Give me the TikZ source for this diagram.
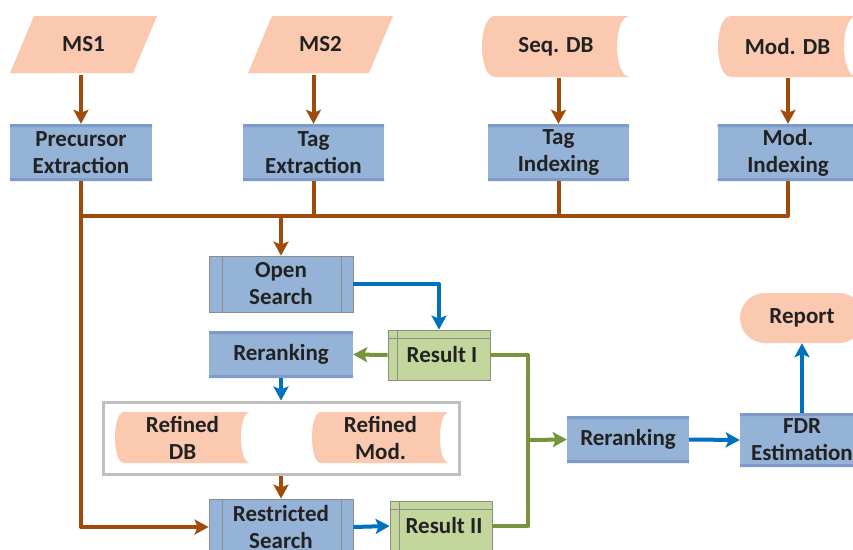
\documentclass[tikz,border=0pt]{standalone}
\usepackage{fontspec}
\setmainfont{Carlito}
\usetikzlibrary{arrows.meta,calc}

\definecolor{peach}{HTML}{FAC9AF}
\definecolor{bluefill}{HTML}{95B3D7}
\definecolor{bluedark}{HTML}{7D9BC9}
\definecolor{greenfill}{HTML}{C3D69B}
\definecolor{brownline}{HTML}{9E4B0C}
\definecolor{bluearrow}{HTML}{0070C0}
\definecolor{greenline}{HTML}{77933C}
\definecolor{boxgrey}{HTML}{BFBFBF}
\definecolor{edgegrey}{HTML}{8C8C8C}
\definecolor{txt}{HTML}{222222}

\tikzset{
  lbl/.style={inner sep=0pt, align=center, text=txt,
    font=\fontsize{23}{27}\selectfont\bfseries},
  % parallelogram (input data)
  inputbox/.style={lbl, path picture={
      \fill[peach] let \p1=(path picture bounding box.north west),
                       \p2=(path picture bounding box.south east) in
        (\x1+24pt,\y1) -- (\x2,\y1) -- (\x2-24pt,\y2) -- (\x1,\y2) -- cycle;}},
  % stored data: convex left side, concave right side
  storedbox/.style={lbl, path picture={
      \fill[peach] let \p1=(path picture bounding box.north west),
                       \p2=(path picture bounding box.south east) in
        (\x1+#1,\y1) -- (\x2,\y1)
        .. controls (\x2-4*#1/3,\y1) and (\x2-4*#1/3,\y2) .. (\x2,\y2)
        -- (\x1+#1,\y2)
        .. controls (\x1-#1/3,\y2) and (\x1-#1/3,\y1) .. (\x1+#1,\y1) -- cycle;}},
  storedbox/.default=12pt,
  % plain process box with darker top and bottom bands
  processbox/.style={lbl, fill=bluefill, path picture={
      \fill[bluedark] let \p1=(path picture bounding box.north west),
                          \p2=(path picture bounding box.south east) in
        (\x1,\y1) rectangle (\x2,\y1-3pt) (\x1,\y2) rectangle (\x2,\y2+3pt);}},
  % predefined process
  predefbox/.style={lbl, fill=bluefill, draw=edgegrey, line width=0.8pt,
    path picture={
      \draw[edgegrey, line width=0.8pt] let \p1=(path picture bounding box.north west),
                          \p2=(path picture bounding box.south east) in
        (\x1+13pt,\y1) -- (\x1+13pt,\y2) (\x2-12pt,\y1) -- (\x2-12pt,\y2);}},
  % internal storage
  storagebox/.style={lbl, fill=greenfill, draw=edgegrey, line width=0.8pt,
    path picture={
      \draw[edgegrey, line width=0.8pt] let \p1=(path picture bounding box.north west),
                          \p2=(path picture bounding box.south east) in
        (\x1+9pt,\y1) -- (\x1+9pt,\y2) (\x1,\y1-8pt) -- (\x2,\y1-8pt);}},
  terminalbox/.style={lbl, fill=peach, rounded corners=25pt},
  groupbox/.style={draw=boxgrey, line width=3pt, fill=white},
  tip/.style={-{Stealth[length=14pt,width=15pt,inset=3pt]}},
  brownflow/.style={draw=brownline, line width=4pt, line join=round},
  blueflow/.style={draw=bluearrow, line width=4pt, line join=round},
  greenflow/.style={draw=greenline, line width=4pt, line join=round},
}

\begin{document}
\begin{tikzpicture}[x=1pt, y=-1pt]
\clip (0,0) rectangle (853,549);
\fill[white] (0,0) rectangle (853,549);

% inputs
\node[inputbox, minimum width=147pt, minimum height=57pt] (ms1) at (83.5,44.5) {MS1};
\node[inputbox, minimum width=145pt, minimum height=57pt] (ms2) at (320.5,44.5) {MS2};
\node[storedbox=13pt, minimum width=148pt, minimum height=61pt] (seqdb) at (556,46.5) {Seq. DB};
\node[storedbox=13pt, minimum width=139pt, minimum height=61pt] (moddb) at (787.5,46.5) {Mod. DB};

% first processing row
\node[processbox, minimum width=142pt, minimum height=57pt] (prec) at (81,152.5) {Precursor\\Extraction};
\node[processbox, minimum width=141pt, minimum height=57pt] (tagex) at (313.5,152.5) {Tag\\Extraction};
\node[processbox, minimum width=141pt, minimum height=57pt] (tagidx) at (558.5,152.5) {Tag\\Indexing};
\node[processbox, minimum width=141pt, minimum height=57pt] (modidx) at (788,152.5) {Mod.\\Indexing};

\coordinate (bus) at (0,216);

% search stages
\node[predefbox, minimum width=144pt, minimum height=56pt] (open) at (281,284) {Open\\Search};
\node[storagebox, minimum width=102pt, minimum height=50pt] (res1) at (439,355) {\kern6pt\raisebox{-4pt}{Result I}};
\node[processbox, minimum width=144pt, minimum height=47pt] (rr1) at (281,354.5) {Reranking};

\node[groupbox, minimum width=356pt, minimum height=72pt] (refined) at (281,438) {};
\node[storedbox=9pt, minimum width=135pt, minimum height=51pt] (refdb) at (182.5,437.5) {Refined\\DB};
\node[storedbox=9pt, minimum width=137pt, minimum height=51pt] (refmod) at (380.5,437.5) {Refined\\Mod.};

\node[predefbox, minimum width=144pt, minimum height=56pt] (restr) at (281,527) {Restricted\\Search};
\node[storagebox, minimum width=102pt, minimum height=50pt] (res2) at (441,526) {\kern6pt\raisebox{-4pt}{Result II}};

% final stages
\node[processbox, minimum width=122pt, minimum height=47pt] (rr2) at (628,439.5) {Reranking};
\node[processbox, minimum width=124pt, minimum height=54pt] (fdr) at (802,440) {FDR\\Estimation};
\node[terminalbox, minimum width=124pt, minimum height=50pt] (report) at (802,318) {Report};

\coordinate (gj) at (528,440);

% brown flows
\draw[brownflow, tip] (prec.north |- ms1.south) ++(0,2) -- (prec.north);
\draw[brownflow, tip] (tagex.north |- ms2.south) ++(0,2) -- (tagex.north);
\draw[brownflow, tip] (tagidx.north |- seqdb.south) ++(0,1) -- (tagidx.north);
\draw[brownflow, tip] (modidx.north |- moddb.south) ++(0,1) -- (modidx.north);
\draw[brownflow] (prec.south |- bus) -- (modidx.south |- bus) -- (modidx.south);
\draw[brownflow] (tagex.south) -- (tagex.south |- bus);
\draw[brownflow] (tagidx.south) -- (tagidx.south |- bus);
\draw[brownflow, tip] (prec.south) |- (restr.west);
\draw[brownflow, tip] (open.north |- bus) -- (open.north);
\draw[brownflow, tip] (refined.south) -- (restr.north);

% blue flows
\draw[blueflow, tip] (open.east) -| (res1.north);
\draw[blueflow, tip] (rr1.south) -- (refined.north);
\draw[blueflow, tip] (restr.east) -- (res2.west);
\draw[blueflow, tip] (rr2.east) -- (fdr.west);
\draw[blueflow, tip] (fdr.north) -- (report.south);

% green flows
\draw[greenflow, tip] (res1.west) -- (rr1.east);
\draw[greenflow] (res1.east) -| (gj) |- (res2.east);
\draw[greenflow, tip] (gj) -- (rr2.west);
\end{tikzpicture}
\end{document}
